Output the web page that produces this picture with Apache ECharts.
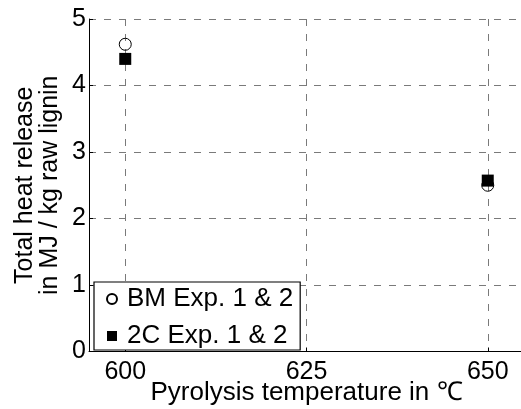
<!DOCTYPE html>
<html>
<head>
<meta charset="utf-8">
<script src="https://cdn.jsdelivr.net/npm/echarts@6/dist/echarts.min.js"></script>
<style>
  html, body { margin: 0; padding: 0; background: #fff; }
  #chart { width: 521px; height: 409px; }
</style>
</head>
<body>
<div id="chart"></div>
<script>
// Pyrolysis temperatures (°C) and total heat release (MJ / kg raw lignin)
const temperatures = [600, 650];
const bmValues = [4.62, 2.50];
const c2Values = [4.40, 2.57];
const xTicks = [600, 625, 650];
const seriesNames = ['BM Exp. 1 & 2', '2C Exp. 1 & 2'];

const FONT = '"Liberation Sans", Arial, Helvetica, sans-serif';
const gridLine = { show: true, lineStyle: { color: '#7a7a7a', width: 1, type: [7, 8] } };

const chart = echarts.init(document.getElementById('chart'), null, { renderer: 'canvas' });

chart.setOption({
  animation: false,
  backgroundColor: '#ffffff',
  textStyle: { fontFamily: FONT, color: '#000' },
  grid: {
    left: 89, top: 19, width: 435, height: 332.5,
    containLabel: false,
    outerBoundsMode: 'none'
  },
  xAxis: {
    type: 'value',
    min: 595,
    max: 655,
    name: 'Pyrolysis temperature in \u2103',
    nameLocation: 'middle',
    nameGap: 28,
    nameMoveOverlap: false,
    nameTextStyle: { fontSize: 26, fontFamily: FONT, color: '#000' },
    axisLine: { show: true, onZero: false, lineStyle: { color: '#000', width: 1 } },
    axisTick: { show: true, inside: true, length: 4, customValues: xTicks, lineStyle: { color: '#000' } },
    axisLabel: { show: true, customValues: xTicks, fontSize: 25, margin: 8, color: '#000', fontFamily: FONT },
    splitLine: gridLine
  },
  yAxis: {
    type: 'value',
    min: 0,
    max: 5,
    interval: 1,
    name: 'Total heat release\nin MJ / kg raw lignin',
    nameLocation: 'middle',
    nameGap: 26,
    nameMoveOverlap: false,
    nameTextStyle: { fontSize: 25, lineHeight: 25, fontFamily: FONT, color: '#000', align: 'center' },
    axisLine: { show: true, lineStyle: { color: '#000', width: 1 } },
    axisTick: { show: true, inside: true, length: 4, lineStyle: { color: '#000' } },
    axisLabel: { fontSize: 25, margin: 3, color: '#000', fontFamily: FONT },
    splitLine: gridLine
  },
  legend: {
    show: true,
    orient: 'vertical',
    left: 94,
    top: 282,
    padding: [4, 7, 1, 12],
    itemGap: 11,
    itemWidth: 10,
    itemHeight: 10,
    backgroundColor: '#ffffff',
    borderColor: '#000000',
    borderWidth: 1.2,
    textStyle: { fontSize: 26, lineHeight: 25, color: '#000', fontFamily: FONT, padding: [0, 0, 0, 5] },
    data: [
      { name: seriesNames[0], icon: 'circle' },
      { name: seriesNames[1], icon: 'rect' }
    ]
  },
  series: [
    {
      name: seriesNames[0],
      type: 'scatter',
      symbol: 'circle',
      symbolSize: 12,
      itemStyle: { color: 'rgba(0,0,0,0)', borderColor: '#000', borderWidth: 1, opacity: 1 },
      data: temperatures.map((t, i) => [t, bmValues[i]]),
      z: 3
    },
    {
      name: seriesNames[1],
      type: 'scatter',
      symbol: 'rect',
      symbolSize: 12,
      itemStyle: { color: '#000', opacity: 1 },
      data: temperatures.map((t, i) => [t, c2Values[i]]),
      z: 4
    }
  ]
});
</script>
</body>
</html>
